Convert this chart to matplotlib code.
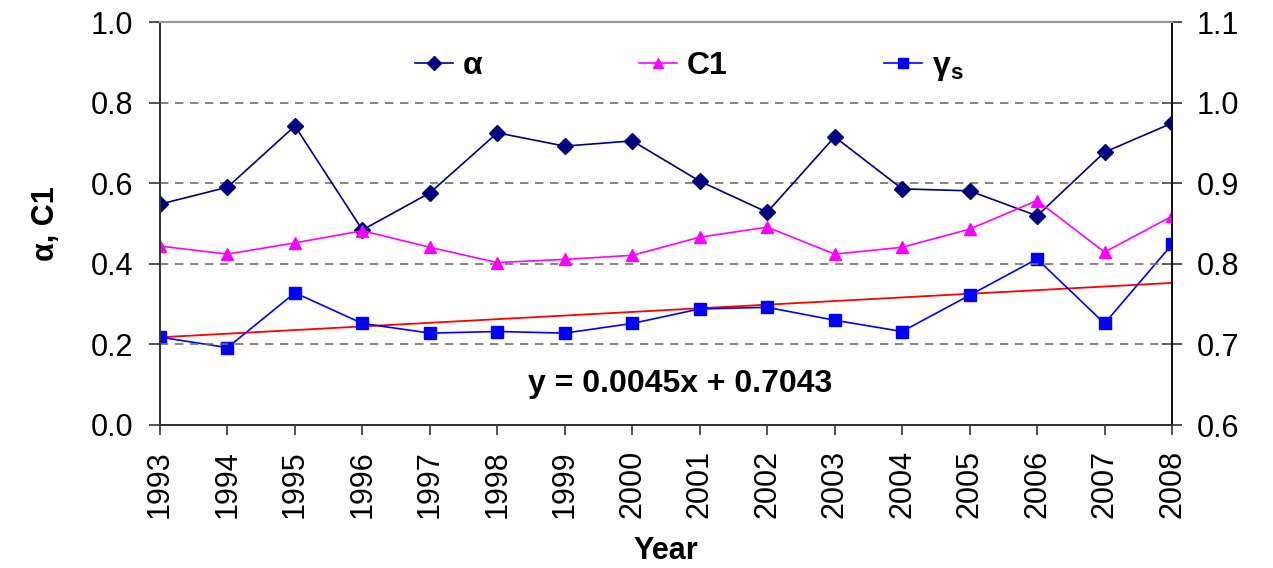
import matplotlib
matplotlib.use("Agg")
import matplotlib.pyplot as plt
import numpy as np

plt.rcParams['font.family'] = ['Liberation Sans', 'DejaVu Sans']
plt.rcParams['mathtext.fontset'] = 'custom'
plt.rcParams['mathtext.rm'] = 'Liberation Sans'
plt.rcParams['mathtext.bf'] = 'Liberation Sans:bold'
plt.rcParams['mathtext.it'] = 'Liberation Sans:italic'

years = [1993, 1994, 1995, 1996, 1997, 1998, 1999, 2000,
         2001, 2002, 2003, 2004, 2005, 2006, 2007, 2008]
alpha = [0.548, 0.590, 0.742, 0.484, 0.576, 0.725, 0.692, 0.705,
         0.605, 0.528, 0.715, 0.586, 0.581, 0.519, 0.677, 0.749]
c1 = [0.444, 0.424, 0.452, 0.482, 0.441, 0.403, 0.411, 0.421,
      0.466, 0.491, 0.424, 0.441, 0.486, 0.557, 0.429, 0.518]
gamma_s = [0.709, 0.696, 0.764, 0.726, 0.714, 0.716, 0.714, 0.726,
           0.744, 0.746, 0.730, 0.716, 0.761, 0.806, 0.726, 0.824]
trend_slope = 0.0045
trend_intercept = 0.7043
trend_label = "y = 0.0045x + 0.7043"

W, H = 1273, 568
fig = plt.figure(figsize=(W / 100, H / 100), dpi=100)
L, R, T, B = 160, 1172, 22, 425
ax = fig.add_axes([L / W, 1 - B / H, (R - L) / W, (B - T) / H])
ax2 = ax.twinx()

x = np.array(years)
idx = np.arange(1, len(years) + 1)
trend = trend_slope * idx + trend_intercept

l1, = ax.plot(x, alpha, color='#000080', marker='D', markersize=8, lw=1.2,
              label='α')
l2, = ax.plot(x, c1, color='#FF00FF', marker='^', markersize=9, lw=1.2,
              label='C1')
l3, = ax2.plot(x, gamma_s, color='#0000FF', marker='s', markersize=8, lw=1.2,
               label=r'$\mathbf{\gamma}_\mathbf{s}$')
ax2.plot(x, trend, color='#FF0000', lw=1.3, zorder=1)

ax.set_xlim(1993, 2008)
ax.set_ylim(0, 1.0)
ax2.set_ylim(0.6, 1.1)
ax.set_yticks([0.0, 0.2, 0.4, 0.6, 0.8, 1.0])
ax.set_yticklabels(['0.0', '0.2', '0.4', '0.6', '0.8', '1.0'])
ax2.set_yticks([0.6, 0.7, 0.8, 0.9, 1.0, 1.1])
ax2.set_yticklabels(['0.6', '0.7', '0.8', '0.9', '1.0', '1.1'])
ax.set_xticks(years)
ax.set_xticklabels([str(y) for y in years], rotation=90)

for yv in [0.2, 0.4, 0.6, 0.8]:
    ax.axhline(yv, color='#707070', lw=1.2, ls=(0, (5, 4)), zorder=0)

fs = 22
ax.tick_params(axis='y', direction='out', length=8, width=1.2, pad=11,
               labelsize=fs, colors='#333333', labelcolor='black')
ax.tick_params(axis='x', direction='out', length=7, width=1.2, pad=11,
               labelsize=fs, colors='#333333', labelcolor='black')
ax2.tick_params(axis='y', direction='inout', length=14, width=1.2, pad=11,
                labelsize=fs, colors='#333333', labelcolor='black')

for a in (ax, ax2):
    a.spines['top'].set_color('#999999')
    a.spines['top'].set_linewidth(1.5)
    a.spines['left'].set_color('#333333')
    a.spines['bottom'].set_color('#333333')
    a.spines['right'].set_color('#111111')
    for s in a.spines.values():
        if s is not a.spines['top']:
            s.set_linewidth(1.3)

ax.set_ylabel('α, C1', fontsize=fs, fontweight='bold')
ax.yaxis.label.set_va('center')
ax.yaxis.set_label_coords((46 - L) / (R - L), 0.5)
ax.set_xlabel('Year', fontsize=fs, fontweight='bold')
ax.xaxis.label.set_va('top')
ax.xaxis.set_label_coords(0.5, -(536 - B) / (B - T))

fig.text(680 / W, 1 - 384 / H, trend_label, fontsize=23, fontweight='bold',
         ha='center', va='center')

leg = fig.legend(handles=[l1, l2, l3], loc='center', ncol=3,
                 bbox_to_anchor=(689 / W, 1 - 67 / H), frameon=False,
                 prop={'size': 23, 'weight': 'bold'}, handlelength=1.2,
                 handletextpad=0.3, columnspacing=4.9, markerscale=0.85)

ax.set_zorder(ax2.get_zorder() + 1)
ax.patch.set_visible(False)

fig.savefig('out.png', dpi=100)
